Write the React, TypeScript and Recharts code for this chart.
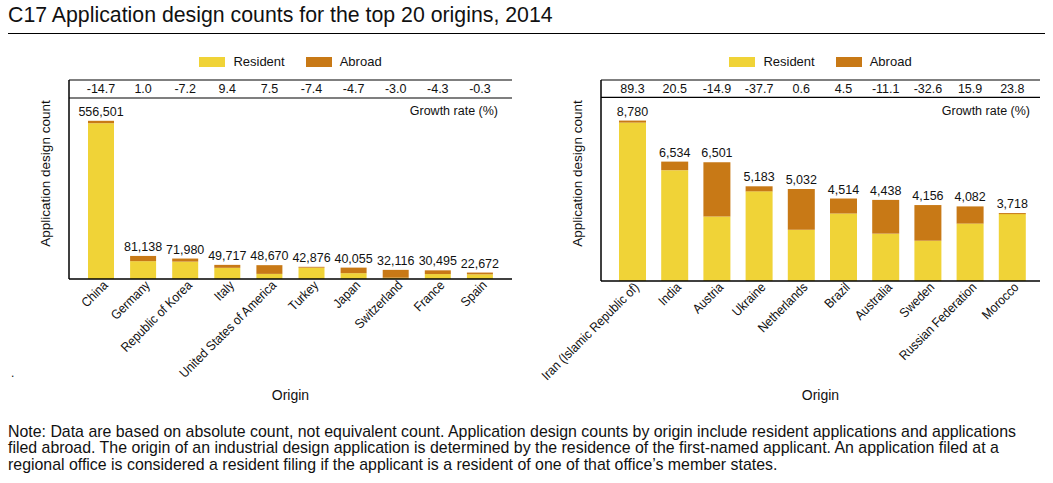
import { BarChart, Bar, XAxis, YAxis, ReferenceLine, LabelList, Legend } from 'recharts';

// left panel: top 10 origins
const LEFT_ORIGINS = ['China', 'Germany', 'Republic of Korea', 'Italy', 'United States of America', 'Turkey', 'Japan', 'Switzerland', 'France', 'Spain'];
const LEFT_TOTAL = [556501, 81138, 71980, 49717, 48670, 42876, 40055, 32116, 30495, 22672];
const LEFT_RESIDENT = [548000, 62700, 61200, 39300, 18000, 39800, 20500, 4500, 17400, 16500];
const LEFT_GROWTH = ['-14.7', '1.0', '-7.2', '9.4', '7.5', '-7.4', '-4.7', '-3.0', '-4.3', '-0.3'];

// right panel: origins 11-20
const RIGHT_ORIGINS = ['Iran (Islamic Republic of)', 'India', 'Austria', 'Ukraine', 'Netherlands', 'Brazil', 'Australia', 'Sweden', 'Russian Federation', 'Morocco'];
const RIGHT_TOTAL = [8780, 6534, 6501, 5183, 5032, 4514, 4438, 4156, 4082, 3718];
const RIGHT_RESIDENT = [8670, 6064, 3528, 4906, 2811, 3693, 2591, 2205, 3142, 3660];
const RIGHT_GROWTH = ['89.3', '20.5', '-14.9', '-37.7', '0.6', '4.5', '-11.1', '-32.6', '15.9', '23.8'];

const RESIDENT_COLOR = '#F0D337';
const ABROAD_COLOR = '#C87916';
const FONT = "'Liberation Sans', Arial, sans-serif";
const TEXT = '#111';

const buildRows = (origins: string[], totals: number[], resident: number[], growth: string[]) =>
  origins.map((name, i) => ({
    name,
    resident: resident[i],
    abroad: totals[i] - resident[i],
    total: totals[i],
    growth: growth[i],
  }));

const leftRows = buildRows(LEFT_ORIGINS, LEFT_TOTAL, LEFT_RESIDENT, LEFT_GROWTH);
const rightRows = buildRows(RIGHT_ORIGINS, RIGHT_TOTAL, RIGHT_RESIDENT, RIGHT_GROWTH);

const GROWTH_TEXT_Y = 93;

const GrowthLabel = (props: any) => {
  const { x, width, value } = props;
  return (
    <text x={Number(x) + Number(width) / 2} y={GROWTH_TEXT_Y} textAnchor="middle" fontSize={12.5} fill={TEXT}>
      {value}
    </text>
  );
};

// the source uses a condensed face, so squeeze the slanted labels a little
const SlantTick = (props: any) => {
  const { x, y, payload } = props;
  return (
    <g transform={`translate(${x},${y})`}>
      <text x={0} y={0} dx={2} dy={9} transform="rotate(-45) scale(0.9 1)" textAnchor="end" fontSize={13.2} fill={TEXT}>
        {payload.value}
      </text>
    </g>
  );
};

const LegendBox = () => (
  <div style={{ display: 'flex', justifyContent: 'center', alignItems: 'center', fontSize: 13, color: TEXT, fontFamily: FONT }}>
    <span style={{ width: 26, height: 10, background: RESIDENT_COLOR, display: 'inline-block', marginRight: 8 }} />
    <span style={{ marginRight: 21 }}>Resident</span>
    <span style={{ width: 26, height: 10, background: ABROAD_COLOR, display: 'inline-block', marginRight: 8 }} />
    <span>Abroad</span>
  </div>
);

interface PanelProps {
  rows: ReturnType<typeof buildRows>;
  width: number;
  yMax: number;
  rowBase: number;
  axisWidth: number;
  axisHeight: number;
  marginRight: number;
  padding: { left: number; right: number };
  barSize: number;
}

function Panel({ rows, width, yMax, rowBase, axisWidth, axisHeight, marginRight, padding, barSize }: PanelProps) {
  return (
    <BarChart width={width} height={420} data={rows} margin={{ top: 80, right: marginRight, bottom: 0, left: 0 }}>
      <XAxis
        dataKey="name"
        interval={0}
        height={axisHeight}
        tick={<SlantTick />}
        tickLine={false}
        tickSize={0}
        axisLine={{ stroke: '#000', strokeWidth: 1.5 }}
        padding={padding}
        label={{ value: 'Origin', position: 'insideBottom', offset: 20, fontSize: 14, fill: TEXT }}
      />
      <YAxis width={axisWidth} domain={[0, yMax]} tick={false} tickLine={false} axisLine={{ stroke: '#000', strokeWidth: 1.5 }} />
      <Legend verticalAlign="middle" layout="horizontal" wrapperStyle={{ top: 54, left: axisWidth, width: width - axisWidth - marginRight }} content={<LegendBox />} />
      <ReferenceLine y={yMax} stroke="#000" strokeWidth={1.2} />
      <ReferenceLine y={rowBase} stroke="#000" strokeWidth={1.2} />
      <Bar dataKey="resident" stackId="a" fill={RESIDENT_COLOR} barSize={barSize} isAnimationActive={false}>
        <LabelList dataKey="growth" content={<GrowthLabel />} />
      </Bar>
      <Bar dataKey="abroad" stackId="a" fill={ABROAD_COLOR} barSize={barSize} isAnimationActive={false}>
        <LabelList
          dataKey="total"
          position="top"
          offset={5}
          fontSize={12.5}
          fill={TEXT}
          formatter={(v: any) => Number(v).toLocaleString('en-US')}
        />
      </Bar>
    </BarChart>
  );
}

const yLabel = (left: number): React.CSSProperties => ({
  position: 'absolute',
  left,
  top: 166,
  width: 200,
  marginLeft: -100,
  textAlign: 'center',
  transform: 'rotate(-90deg)',
  fontSize: 13.5,
  color: TEXT,
});

export default function App() {
  return (
    <div style={{ position: 'absolute', left: 0, top: 0, width: 1053, height: 483, background: '#fff', fontFamily: FONT }}>
      <div style={{ position: 'absolute', left: 8, top: 3, fontSize: 21.3, color: TEXT }}>
        C17 Application design counts for the top 20 origins, 2014
      </div>
      <div style={{ position: 'absolute', left: 8, top: 33, width: 1037, borderTop: '1px solid #000' }} />

      <div style={{ position: 'absolute', left: 0, top: 0 }}>
        <Panel rows={leftRows} width={530} yMax={700000} rowBase={636700} axisWidth={69} axisHeight={141} marginRight={18} padding={{ left: 11, right: 11 }} barSize={26} />
      </div>
      <div style={{ position: 'absolute', left: 500, top: 0 }}>
        <Panel rows={rightRows} width={553} yMax={11000} rowBase={10050} axisWidth={101} axisHeight={139} marginRight={13} padding={{ left: 10, right: 7 }} barSize={27} />
      </div>

      <div style={yLabel(45)}>Application design count</div>
      <div style={yLabel(577)}>Application design count</div>
      <div style={{ position: 'absolute', right: 1053 - 498, top: 104, fontSize: 12.5, color: TEXT }}>Growth rate (%)</div>
      <div style={{ position: 'absolute', right: 1053 - 1030, top: 104, fontSize: 12.5, color: TEXT }}>Growth rate (%)</div>
      <div style={{ position: 'absolute', left: 11, top: 366, fontSize: 12, color: TEXT }}>.</div>

      <div style={{ position: 'absolute', left: 8, top: 424, fontSize: 15.9, lineHeight: '16.4px', color: TEXT, whiteSpace: 'nowrap' }}>
        Note: Data are based on absolute count, not equivalent count. Application design counts by origin include resident applications and applications
        <br />
        filed abroad. The origin of an industrial design application is determined by the residence of the first-named applicant. An application filed at a
        <br />
        regional office is considered a resident filing if the applicant is a resident of one of that office’s member states.
      </div>
    </div>
  );
}
